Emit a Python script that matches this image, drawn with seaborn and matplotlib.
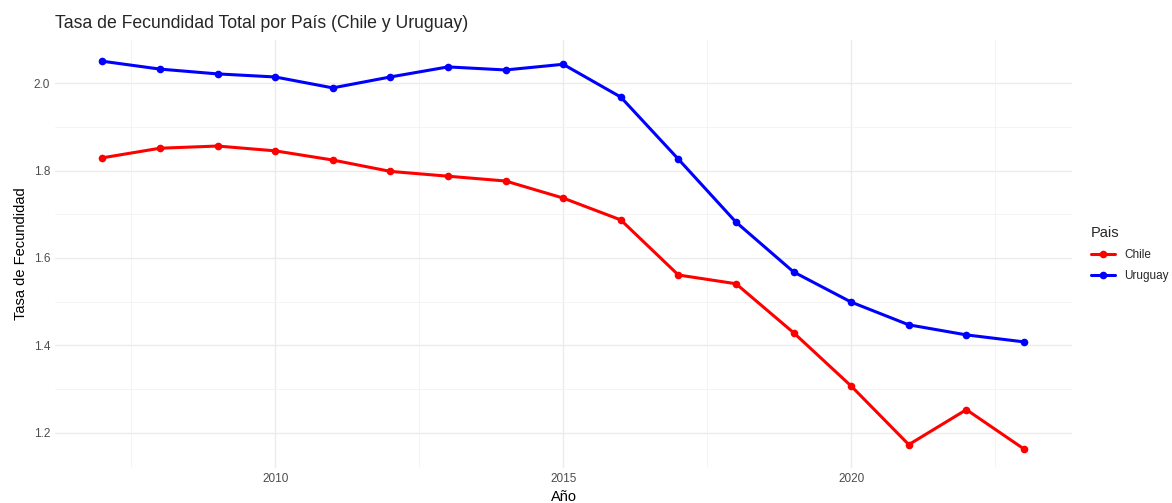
import pandas as pd
import seaborn as sns
import matplotlib.pyplot as plt
from matplotlib.ticker import MultipleLocator


# ======================================
# DATA
# ======================================

years = list(range(2007, 2024))

chile = [1.829, 1.851, 1.856, 1.845, 1.824, 1.798, 1.787, 1.776, 1.737,
         1.687, 1.561, 1.541, 1.429, 1.307, 1.173, 1.253, 1.163]

uruguay = [2.050, 2.032, 2.021, 2.014, 1.989, 2.014, 2.037, 2.030, 2.043,
           1.968, 1.826, 1.682, 1.568, 1.499, 1.447, 1.424, 1.408]

countries = ["Chile", "Uruguay"]
colors = {"Chile": "#FF0000", "Uruguay": "#0000FF"}

df = pd.concat([
    pd.DataFrame({"Año": years, "Tasa": chile, "Pais": "Chile"}),
    pd.DataFrame({"Año": years, "Tasa": uruguay, "Pais": "Uruguay"}),
])


# ======================================
# CHART
# ======================================

sns.set_style("white")
plt.rcParams["font.family"] = ["Liberation Sans", "DejaVu Sans"]

fig = plt.figure(figsize=(11.72, 5.03), dpi=100)
ax = fig.add_axes([0.047, 0.070, 0.868, 0.850])

sns.lineplot(
    data=df,
    x="Año",
    y="Tasa",
    hue="Pais",
    hue_order=countries,
    palette=colors,
    marker="o",
    markersize=5.5,
    markeredgewidth=0,
    linewidth=2.2,
    ax=ax
)

ax.set_xlim(2006.18, 2023.84)
ax.set_ylim(1.12, 2.098)

ax.xaxis.set_major_locator(MultipleLocator(5))
ax.xaxis.set_minor_locator(MultipleLocator(2.5))
ax.yaxis.set_major_locator(MultipleLocator(0.2))
ax.yaxis.set_minor_locator(MultipleLocator(0.1))

ax.grid(which="major", color="#EBEBEB", linewidth=1.0)
ax.grid(which="minor", color="#F2F2F2", linewidth=0.6)
ax.set_axisbelow(True)

for s in ax.spines.values():
    s.set_visible(False)

ax.tick_params(which="both", length=0, labelsize=8.5, labelcolor="#4D4D4D")
ax.set_yticks([1.2, 1.4, 1.6, 1.8, 2.0])
ax.set_yticklabels(["1.2", "1.4", "1.6", "1.8", "2.0"])

ax.set_xlabel("Año", fontsize=10.5, color="black", labelpad=4)
ax.set_ylabel("Tasa de Fecundidad", fontsize=10.5, color="black", labelpad=4)

ax.set_title(
    "Tasa de Fecundidad Total por País (Chile y Uruguay)",
    fontsize=12.7,
    loc="left",
    x=0.0,
    pad=9
)

leg = ax.legend(
    title="Pais",
    loc="center left",
    bbox_to_anchor=(1.008, 0.5),
    frameon=False,
    fontsize=8.5,
    title_fontsize=10.5,
    handlelength=2.0,
    labelspacing=0.8
)
leg._legend_box.align = "left"

plt.savefig("out.png", dpi=100)
